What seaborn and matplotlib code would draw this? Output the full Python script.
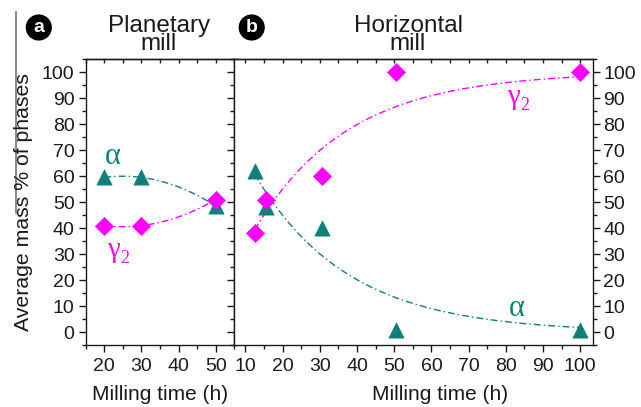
import numpy as np
import pandas as pd
import matplotlib
matplotlib.use("Agg")
import matplotlib.pyplot as plt
from matplotlib.ticker import MultipleLocator
from matplotlib.lines import Line2D
import seaborn as sns

# Phase fractions (mass %) versus milling time (h)
planetary_time = [20, 30, 50]
planetary_alpha = [59.5, 59.5, 48.5]
planetary_gamma2 = [41, 41, 51]

horizontal_time = [12.5, 15.5, 30.5, 50.5, 100]
horizontal_alpha = [62, 48, 40, 1, 1]
horizontal_gamma2 = [38, 51, 60, 100, 100]

# first-order transformation rate used for the horizontal-mill model curves (1/h)
K_RATE = 0.040

y_ticks = list(range(0, 101, 10))
planetary_xticks = [20, 30, 40, 50]
horizontal_xticks = list(range(10, 101, 10))

TEAL = "#0f7f7a"
MAGENTA = "#ff00ff"
INK = "#1a1a1a"

sns.set_style("ticks")
plt.rcParams["font.family"] = ["Liberation Sans", "DejaVu Sans"]
plt.rcParams["axes.linewidth"] = 1.0
plt.rcParams["axes.edgecolor"] = INK

W, H = 641, 407
fig = plt.figure(figsize=(W / 100, H / 100), dpi=100)

def px(x0, y0, x1, y1):
    return [x0 / W, 1 - y1 / H, (x1 - x0) / W, (y1 - y0) / H]

ax_a = fig.add_axes(px(85.7, 59, 234.3, 345.3))
ax_b = fig.add_axes(px(234.3, 59, 593.3, 345.3))

dashdot = (0, (5, 2.2, 1, 2.2))

# ---- planetary mill ----
pa = pd.DataFrame({"t": planetary_time, "alpha": planetary_alpha, "gamma2": planetary_gamma2})
tt = np.linspace(min(planetary_time), max(planetary_time), 200)
for col, color in (("alpha", TEAL), ("gamma2", MAGENTA)):
    coef = np.polyfit(pa["t"], pa[col], 2)
    sns.lineplot(x=tt, y=np.polyval(coef, tt), ax=ax_a, color=color,
                 linestyle=dashdot, linewidth=1.0, zorder=2)
sns.scatterplot(data=pa, x="t", y="alpha", ax=ax_a, marker="^", s=120,
                color=TEAL, edgecolor=TEAL, linewidth=0.5, zorder=3)
sns.scatterplot(data=pa, x="t", y="gamma2", ax=ax_a, marker="D", s=85,
                color=MAGENTA, edgecolor=MAGENTA, linewidth=0.5, zorder=4)

# ---- horizontal mill ----
hb = pd.DataFrame({"t": horizontal_time, "alpha": horizontal_alpha, "gamma2": horizontal_gamma2})
tb = np.linspace(min(horizontal_time), max(horizontal_time), 300)
gamma_model = 100 * (1 - np.exp(-K_RATE * tb))
sns.lineplot(x=tb, y=gamma_model, ax=ax_b, color=MAGENTA, linestyle=dashdot,
             linewidth=1.0, zorder=2)
sns.lineplot(x=tb, y=100 - gamma_model, ax=ax_b, color=TEAL, linestyle=dashdot,
             linewidth=1.0, zorder=2)
sns.scatterplot(data=hb, x="t", y="alpha", ax=ax_b, marker="^", s=120,
                color=TEAL, edgecolor=TEAL, linewidth=0.5, zorder=3)
sns.scatterplot(data=hb, x="t", y="gamma2", ax=ax_b, marker="D", s=85,
                color=MAGENTA, edgecolor=MAGENTA, linewidth=0.5, zorder=4)

# ---- axes formatting ----
for ax in (ax_a, ax_b):
    ax.set_ylim(-5, 105)
    ax.set_yticks(y_ticks)
    ax.yaxis.set_minor_locator(MultipleLocator(5))
    ax.xaxis.set_minor_locator(MultipleLocator(5))
    ax.set_xlabel("")
    ax.set_ylabel("")
    for s in ax.spines.values():
        s.set_visible(True)
        s.set_color(INK)
    ax.tick_params(axis="both", which="major", labelsize=14, length=5,
                   width=1.0, color=INK, labelcolor=INK)
    ax.tick_params(axis="both", which="minor", length=3, width=1.0, color=INK)
    ax.tick_params(axis="x", which="both", direction="out", top=False, pad=4)
    ax.tick_params(axis="y", which="both", direction="out", left=True, right=True)
    sec = ax.secondary_xaxis("top")
    sec.tick_params(axis="x", which="both", direction="in", labeltop=False,
                    length=3, width=1.0, color=INK)
    sec.xaxis.set_minor_locator(MultipleLocator(5))
    sec.spines["top"].set_color(INK)

ax_a.set_xlim(15, 55)
ax_a.set_xticks(planetary_xticks)
ax_a.tick_params(axis="y", labelleft=True, labelright=False, pad=3)
ax_b.set_xlim(7, 103.5)
ax_b.set_xticks(horizontal_xticks)
ax_b.tick_params(axis="y", labelleft=False, labelright=True, pad=2)

# phase labels
serif = ["Liberation Serif", "DejaVu Serif"]

def gamma2(ax, x, y):
    ax.text(x, y, "γ", color=MAGENTA, fontsize=21, family=serif,
            ha="right", va="center")
    ax.annotate("2", (x, y), xytext=(0.5, -6), textcoords="offset points",
                color=MAGENTA, fontsize=13, family=serif, ha="left", va="center")

ax_a.text(22.4, 67.5, "α", color=TEAL, fontsize=22, family=serif, ha="center", va="center")
gamma2(ax_a, 24.2, 31.5)
ax_b.text(83, 9, "α", color=TEAL, fontsize=22, family=serif, ha="center", va="center")
gamma2(ax_b, 83.8, 90.5)

def ftext(x, y, s, **kw):
    fig.text(x / W, 1 - y / H, s, **kw)

ftext(159, 35, "Planetary\nmill", fontsize=17.5, ha="center", va="center",
      linespacing=0.8, color=INK)
ftext(408, 35, "Horizontal\nmill", fontsize=17.5, ha="center", va="center",
      linespacing=0.8, color=INK)
ftext(160, 395, "Milling time (h)", fontsize=15, ha="center", va="center", color=INK)
ftext(440, 395, "Milling time (h)", fontsize=15, ha="center", va="center", color=INK)
ftext(24, 202, "Average mass % of phases", fontsize=15.3, ha="center", va="center",
      rotation=90, color=INK)

badge = dict(boxstyle="circle,pad=0.2", fc="black", ec="black")
ftext(38.8, 27.5, "a", fontsize=14, color="white", fontweight="bold",
      ha="center", va="center", bbox=badge)
ftext(251.7, 27.5, "b", fontsize=14, color="white", fontweight="bold",
      ha="center", va="center", bbox=badge)

fig.add_artist(Line2D([15.5 / W, 15.5 / W], [1 - 12 / H, 1 - 213 / H],
                      transform=fig.transFigure, color="#8a8a8a", linewidth=1.5))

fig.savefig("out.png", dpi=100)
